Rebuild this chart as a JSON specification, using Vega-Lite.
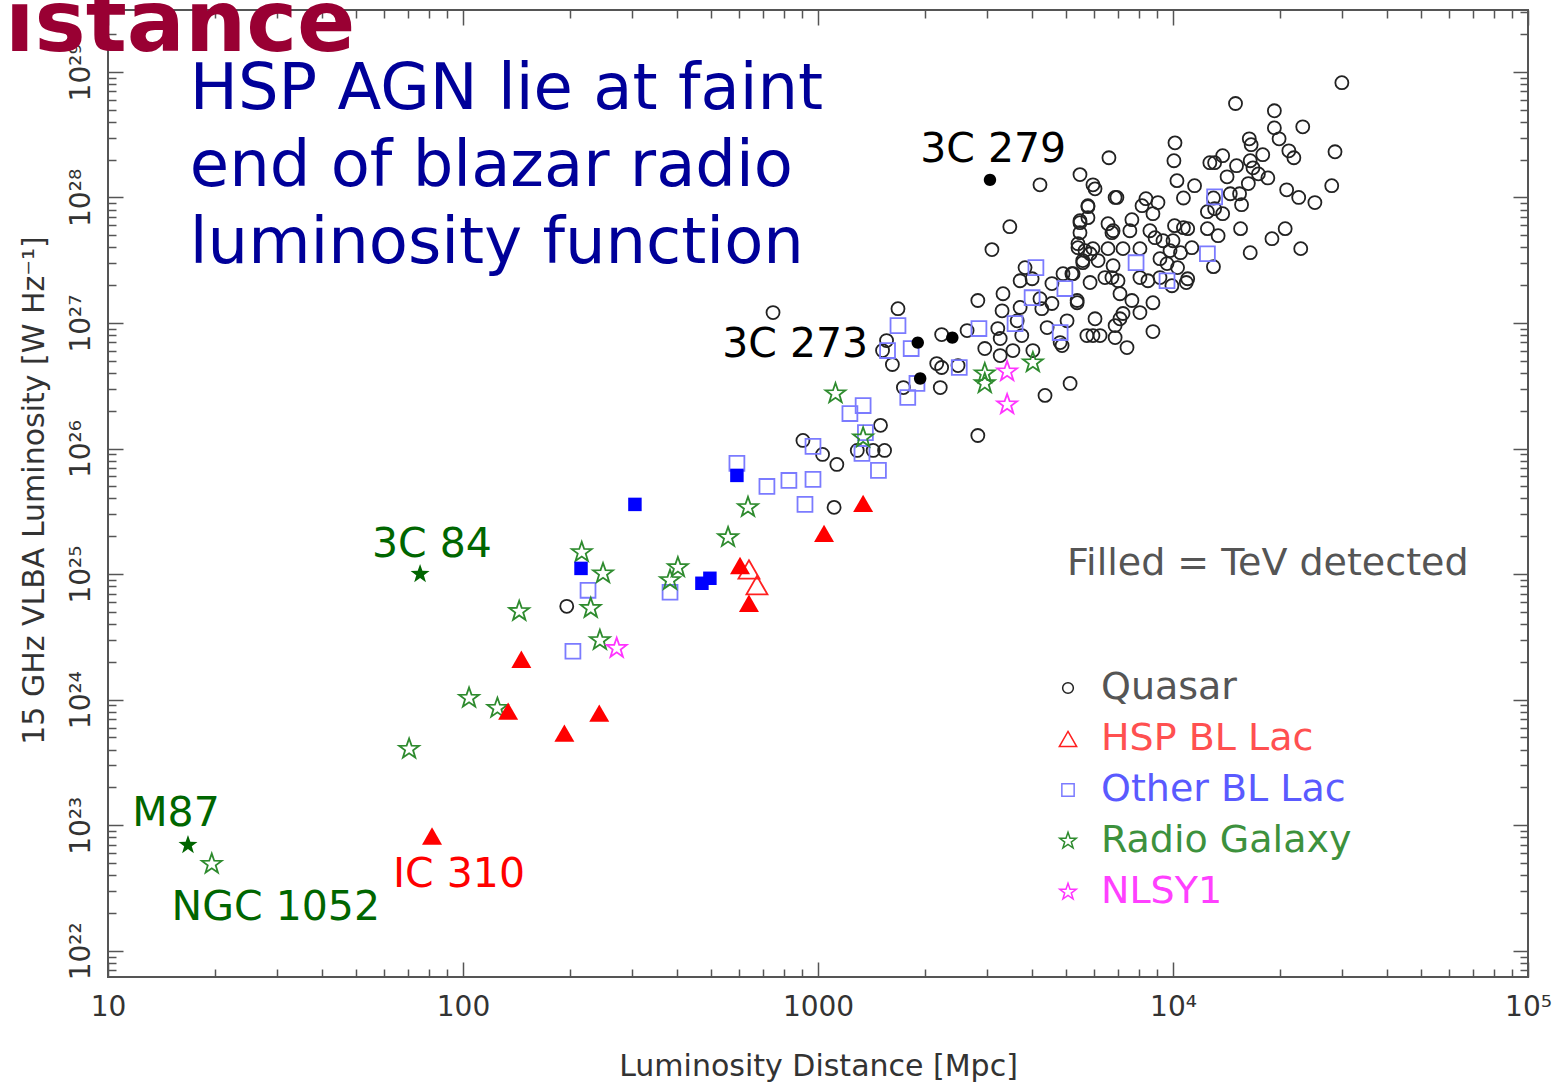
{
  "$schema": "https://vega.github.io/schema/vega-lite/v6.json",
  "width": 1420,
  "height": 967,
  "autosize": {"type": "none"},
  "padding": {"left": 108, "top": 10, "right": 34, "bottom": 105},
  "background": "white",
  "config": {
    "view": {"stroke": "#555555", "strokeWidth": 2},
    "font": "DejaVu Sans",
    "axis": {"grid": false, "domain": false, "labelFont": "DejaVu Sans", "titleFont": "DejaVu Sans"}
  },
  "datasets": {
    "open": [
      {"class":"Quasar","distance":29900,"luminosity":8.2e28},
      {"class":"Quasar","distance":15000,"luminosity":5.6e28},
      {"class":"Quasar","distance":19300,"luminosity":4.9e28},
      {"class":"Quasar","distance":23200,"luminosity":3.65e28},
      {"class":"Quasar","distance":19300,"luminosity":3.58e28},
      {"class":"Quasar","distance":19900,"luminosity":2.93e28},
      {"class":"Quasar","distance":16400,"luminosity":2.93e28},
      {"class":"Quasar","distance":16600,"luminosity":2.63e28},
      {"class":"Quasar","distance":21200,"luminosity":2.35e28},
      {"class":"Quasar","distance":21900,"luminosity":2.07e28},
      {"class":"Quasar","distance":28600,"luminosity":2.31e28},
      {"class":"Quasar","distance":17900,"luminosity":2.19e28},
      {"class":"Quasar","distance":10130,"luminosity":2.72e28},
      {"class":"Quasar","distance":10060,"luminosity":1.96e28},
      {"class":"Quasar","distance":6600,"luminosity":2.07e28},
      {"class":"Quasar","distance":13800,"luminosity":2.15e28},
      {"class":"Quasar","distance":12700,"luminosity":1.89e28},
      {"class":"Quasar","distance":13100,"luminosity":1.89e28},
      {"class":"Quasar","distance":15100,"luminosity":1.79e28},
      {"class":"Quasar","distance":16500,"luminosity":1.96e28},
      {"class":"Quasar","distance":16800,"luminosity":1.72e28},
      {"class":"Quasar","distance":17400,"luminosity":1.54e28},
      {"class":"Quasar","distance":18500,"luminosity":1.43e28},
      {"class":"Quasar","distance":14200,"luminosity":1.46e28},
      {"class":"Quasar","distance":10260,"luminosity":1.36e28},
      {"class":"Quasar","distance":11500,"luminosity":1.24e28},
      {"class":"Quasar","distance":5470,"luminosity":1.52e28},
      {"class":"Quasar","distance":5950,"luminosity":1.26e28},
      {"class":"Quasar","distance":6030,"luminosity":1.17e28},
      {"class":"Quasar","distance":6950,"luminosity":1.0e28},
      {"class":"Quasar","distance":10700,"luminosity":9.9e27},
      {"class":"Quasar","distance":13000,"luminosity":9.9e27},
      {"class":"Quasar","distance":14500,"luminosity":1.07e28},
      {"class":"Quasar","distance":15400,"luminosity":1.07e28},
      {"class":"Quasar","distance":16300,"luminosity":1.29e28},
      {"class":"Quasar","distance":20900,"luminosity":1.15e28},
      {"class":"Quasar","distance":22600,"luminosity":1.0e28},
      {"class":"Quasar","distance":25100,"luminosity":9.1e27},
      {"class":"Quasar","distance":28000,"luminosity":1.24e28},
      {"class":"Quasar","distance":12500,"luminosity":7.7e27},
      {"class":"Quasar","distance":13100,"luminosity":8.13e27},
      {"class":"Quasar","distance":13800,"luminosity":7.42e27},
      {"class":"Quasar","distance":15600,"luminosity":8.75e27},
      {"class":"Quasar","distance":15500,"luminosity":5.64e27},
      {"class":"Quasar","distance":20700,"luminosity":5.64e27},
      {"class":"Quasar","distance":19000,"luminosity":4.69e27},
      {"class":"Quasar","distance":16500,"luminosity":3.63e27},
      {"class":"Quasar","distance":22900,"luminosity":3.91e27},
      {"class":"Quasar","distance":12500,"luminosity":5.64e27},
      {"class":"Quasar","distance":13400,"luminosity":4.96e27},
      {"class":"Quasar","distance":13000,"luminosity":2.81e27},
      {"class":"Quasar","distance":5760,"luminosity":8.59e27},
      {"class":"Quasar","distance":8390,"luminosity":9.77e27},
      {"class":"Quasar","distance":8180,"luminosity":8.59e27},
      {"class":"Quasar","distance":9070,"luminosity":9.1e27},
      {"class":"Quasar","distance":8780,"luminosity":7.42e27},
      {"class":"Quasar","distance":7660,"luminosity":6.65e27},
      {"class":"Quasar","distance":6560,"luminosity":6.18e27},
      {"class":"Quasar","distance":6780,"luminosity":5.43e27},
      {"class":"Quasar","distance":5470,"luminosity":6.53e27},
      {"class":"Quasar","distance":5470,"luminosity":5.24e27},
      {"class":"Quasar","distance":5400,"luminosity":4.28e27},
      {"class":"Quasar","distance":5650,"luminosity":3.77e27},
      {"class":"Quasar","distance":5840,"luminosity":3.56e27},
      {"class":"Quasar","distance":5570,"luminosity":3.02e27},
      {"class":"Quasar","distance":6150,"luminosity":3.14e27},
      {"class":"Quasar","distance":6560,"luminosity":3.91e27},
      {"class":"Quasar","distance":7230,"luminosity":3.91e27},
      {"class":"Quasar","distance":7560,"luminosity":5.43e27},
      {"class":"Quasar","distance":8610,"luminosity":5.43e27},
      {"class":"Quasar","distance":8900,"luminosity":4.78e27},
      {"class":"Quasar","distance":9370,"luminosity":4.52e27},
      {"class":"Quasar","distance":10100,"luminosity":5.96e27},
      {"class":"Quasar","distance":10700,"luminosity":5.74e27},
      {"class":"Quasar","distance":11000,"luminosity":5.64e27},
      {"class":"Quasar","distance":10000,"luminosity":4.52e27},
      {"class":"Quasar","distance":11300,"luminosity":3.98e27},
      {"class":"Quasar","distance":10500,"luminosity":3.63e27},
      {"class":"Quasar","distance":9810,"luminosity":3.77e27},
      {"class":"Quasar","distance":9190,"luminosity":3.25e27},
      {"class":"Quasar","distance":9620,"luminosity":2.97e27},
      {"class":"Quasar","distance":10300,"luminosity":2.76e27},
      {"class":"Quasar","distance":11000,"luminosity":2.25e27},
      {"class":"Quasar","distance":10900,"luminosity":2.1e27},
      {"class":"Quasar","distance":8070,"luminosity":3.91e27},
      {"class":"Quasar","distance":8070,"luminosity":2.3e27},
      {"class":"Quasar","distance":8500,"luminosity":2.17e27},
      {"class":"Quasar","distance":6780,"luminosity":2.86e27},
      {"class":"Quasar","distance":7000,"luminosity":2.17e27},
      {"class":"Quasar","distance":6430,"luminosity":2.3e27},
      {"class":"Quasar","distance":5840,"luminosity":2.1e27},
      {"class":"Quasar","distance":7090,"luminosity":1.71e27},
      {"class":"Quasar","distance":7660,"luminosity":1.51e27},
      {"class":"Quasar","distance":8070,"luminosity":1.21e27},
      {"class":"Quasar","distance":8780,"luminosity":1.45e27},
      {"class":"Quasar","distance":9190,"luminosity":2.3e27},
      {"class":"Quasar","distance":9930,"luminosity":1.98e27},
      {"class":"Quasar","distance":5190,"luminosity":2.47e27},
      {"class":"Quasar","distance":5370,"luminosity":1.45e27},
      {"class":"Quasar","distance":6030,"luminosity":1.08e27},
      {"class":"Quasar","distance":7230,"luminosity":1.19e27},
      {"class":"Quasar","distance":7090,"luminosity":1.08e27},
      {"class":"Quasar","distance":6870,"luminosity":9.53e26},
      {"class":"Quasar","distance":6870,"luminosity":7.65e26},
      {"class":"Quasar","distance":7420,"luminosity":6.37e26},
      {"class":"Quasar","distance":8780,"luminosity":8.54e26},
      {"class":"Quasar","distance":5720,"luminosity":7.94e26},
      {"class":"Quasar","distance":5950,"luminosity":7.94e26},
      {"class":"Quasar","distance":6230,"luminosity":7.94e26},
      {"class":"Quasar","distance":5030,"luminosity":1.04e27},
      {"class":"Quasar","distance":4870,"luminosity":6.61e26},
      {"class":"Quasar","distance":4220,"luminosity":1.26e28},
      {"class":"Quasar","distance":6870,"luminosity":1.0e28},
      {"class":"Quasar","distance":5760,"luminosity":8.44e27},
      {"class":"Quasar","distance":5760,"luminosity":6.9e27},
      {"class":"Quasar","distance":5470,"luminosity":6.29e27},
      {"class":"Quasar","distance":6730,"luminosity":5.24e27},
      {"class":"Quasar","distance":3470,"luminosity":5.85e27},
      {"class":"Quasar","distance":3090,"luminosity":3.84e27},
      {"class":"Quasar","distance":1680,"luminosity":1.3e27},
      {"class":"Quasar","distance":1560,"luminosity":7.24e26},
      {"class":"Quasar","distance":1520,"luminosity":6.03e26},
      {"class":"Quasar","distance":1620,"luminosity":4.67e26},
      {"class":"Quasar","distance":2230,"luminosity":8.09e26},
      {"class":"Quasar","distance":2630,"luminosity":8.7e26},
      {"class":"Quasar","distance":2820,"luminosity":1.51e27},
      {"class":"Quasar","distance":3320,"luminosity":1.71e27},
      {"class":"Quasar","distance":3300,"luminosity":1.25e27},
      {"class":"Quasar","distance":3210,"luminosity":9.03e26},
      {"class":"Quasar","distance":3260,"luminosity":7.52e26},
      {"class":"Quasar","distance":2950,"luminosity":6.26e26},
      {"class":"Quasar","distance":3260,"luminosity":5.5e26},
      {"class":"Quasar","distance":3540,"luminosity":6.03e26},
      {"class":"Quasar","distance":3750,"luminosity":7.94e26},
      {"class":"Quasar","distance":3640,"luminosity":1.04e27},
      {"class":"Quasar","distance":3710,"luminosity":1.33e27},
      {"class":"Quasar","distance":3830,"luminosity":2.76e27},
      {"class":"Quasar","distance":3710,"luminosity":2.17e27},
      {"class":"Quasar","distance":4010,"luminosity":2.25e27},
      {"class":"Quasar","distance":4220,"luminosity":1.56e27},
      {"class":"Quasar","distance":4270,"luminosity":1.3e27},
      {"class":"Quasar","distance":4560,"luminosity":1.43e27},
      {"class":"Quasar","distance":4420,"luminosity":9.19e26},
      {"class":"Quasar","distance":4810,"luminosity":6.98e26},
      {"class":"Quasar","distance":4030,"luminosity":6.03e26},
      {"class":"Quasar","distance":4560,"luminosity":2.06e27},
      {"class":"Quasar","distance":4900,"luminosity":2.47e27},
      {"class":"Quasar","distance":5230,"luminosity":2.47e27},
      {"class":"Quasar","distance":5370,"luminosity":1.51e27},
      {"class":"Quasar","distance":5400,"luminosity":3.98e27},
      {"class":"Quasar","distance":5950,"luminosity":3.91e27},
      {"class":"Quasar","distance":5570,"luminosity":3.14e27},
      {"class":"Quasar","distance":6730,"luminosity":2.3e27},
      {"class":"Quasar","distance":2230,"luminosity":4.42e26},
      {"class":"Quasar","distance":2210,"luminosity":3.06e26},
      {"class":"Quasar","distance":2160,"luminosity":4.75e26},
      {"class":"Quasar","distance":1740,"luminosity":3.06e26},
      {"class":"Quasar","distance":2480,"luminosity":4.58e26},
      {"class":"Quasar","distance":4360,"luminosity":2.65e26},
      {"class":"Quasar","distance":5130,"luminosity":3.3e26},
      {"class":"Quasar","distance":2820,"luminosity":1.27e26},
      {"class":"Quasar","distance":1500,"luminosity":1.53e26},
      {"class":"Quasar","distance":1540,"luminosity":9.66e25},
      {"class":"Quasar","distance":1430,"luminosity":9.66e25},
      {"class":"Quasar","distance":1290,"luminosity":9.66e25},
      {"class":"Quasar","distance":907,"luminosity":1.16e26},
      {"class":"Quasar","distance":1030,"luminosity":8.97e25},
      {"class":"Quasar","distance":1130,"luminosity":7.47e25},
      {"class":"Quasar","distance":1110,"luminosity":3.4e25},
      {"class":"Quasar","distance":196,"luminosity":5.54e24},
      {"class":"Quasar","distance":747,"luminosity":1.21e27},
      {"class":"HSP BL Lac","distance":639,"luminosity":1.09e25},
      {"class":"HSP BL Lac","distance":673,"luminosity":8.15e24},
      {"class":"Other BL Lac","distance":591,"luminosity":7.61e25},
      {"class":"Other BL Lac","distance":718,"luminosity":4.99e25},
      {"class":"Other BL Lac","distance":828,"luminosity":5.57e25},
      {"class":"Other BL Lac","distance":968,"luminosity":5.68e25},
      {"class":"Other BL Lac","distance":919,"luminosity":3.59e25},
      {"class":"Other BL Lac","distance":968,"luminosity":1.04e26},
      {"class":"Other BL Lac","distance":1230,"luminosity":1.9e26},
      {"class":"Other BL Lac","distance":1340,"luminosity":2.2e26},
      {"class":"Other BL Lac","distance":1360,"luminosity":1.34e26},
      {"class":"Other BL Lac","distance":1330,"luminosity":9.14e25},
      {"class":"Other BL Lac","distance":1480,"luminosity":6.7e25},
      {"class":"Other BL Lac","distance":1790,"luminosity":2.55e26},
      {"class":"Other BL Lac","distance":1900,"luminosity":3.3e26},
      {"class":"Other BL Lac","distance":2500,"luminosity":4.42e26},
      {"class":"Other BL Lac","distance":225,"luminosity":7.43e24},
      {"class":"Other BL Lac","distance":383,"luminosity":7.17e24},
      {"class":"Other BL Lac","distance":204,"luminosity":2.43e24},
      {"class":"Other BL Lac","distance":1680,"luminosity":9.53e26},
      {"class":"Other BL Lac","distance":1570,"luminosity":6.03e26},
      {"class":"Other BL Lac","distance":1830,"luminosity":6.26e26},
      {"class":"Other BL Lac","distance":2840,"luminosity":9.03e26},
      {"class":"Other BL Lac","distance":3590,"luminosity":9.89e26},
      {"class":"Other BL Lac","distance":4010,"luminosity":1.59e27},
      {"class":"Other BL Lac","distance":4110,"luminosity":2.76e27},
      {"class":"Other BL Lac","distance":4960,"luminosity":1.88e27},
      {"class":"Other BL Lac","distance":4810,"luminosity":8.39e26},
      {"class":"Other BL Lac","distance":13100,"luminosity":1.01e28},
      {"class":"Other BL Lac","distance":12500,"luminosity":3.56e27},
      {"class":"Other BL Lac","distance":7870,"luminosity":3.02e27},
      {"class":"Other BL Lac","distance":9620,"luminosity":2.17e27},
      {"class":"Radio Galaxy","distance":19.6,"luminosity":4.9e22},
      {"class":"Radio Galaxy","distance":70.5,"luminosity":4.04e23},
      {"class":"Radio Galaxy","distance":104,"luminosity":1.03e24},
      {"class":"Radio Galaxy","distance":125,"luminosity":8.56e23},
      {"class":"Radio Galaxy","distance":144,"luminosity":5.06e24},
      {"class":"Radio Galaxy","distance":216,"luminosity":1.49e25},
      {"class":"Radio Galaxy","distance":248,"luminosity":1.01e25},
      {"class":"Radio Galaxy","distance":229,"luminosity":5.35e24},
      {"class":"Radio Galaxy","distance":243,"luminosity":2.97e24},
      {"class":"Radio Galaxy","distance":383,"luminosity":8.93e24},
      {"class":"Radio Galaxy","distance":403,"luminosity":1.13e25},
      {"class":"Radio Galaxy","distance":558,"luminosity":1.96e25},
      {"class":"Radio Galaxy","distance":635,"luminosity":3.4e25},
      {"class":"Radio Galaxy","distance":1120,"luminosity":2.74e26},
      {"class":"Radio Galaxy","distance":1340,"luminosity":1.22e26},
      {"class":"Radio Galaxy","distance":2950,"luminosity":3.96e26},
      {"class":"Radio Galaxy","distance":2950,"luminosity":3.3e26},
      {"class":"Radio Galaxy","distance":4030,"luminosity":4.84e26},
      {"class":"NLSY1","distance":3410,"luminosity":4.1e26},
      {"class":"NLSY1","distance":3410,"luminosity":2.24e26},
      {"class":"NLSY1","distance":271,"luminosity":2.57e24}
    ],
    "tev": [
      {"class":"Quasar","distance":3051,"luminosity":1.38e28},
      {"class":"Quasar","distance":1910,"luminosity":6.98e26},
      {"class":"Quasar","distance":2390,"luminosity":7.65e26},
      {"class":"Quasar","distance":1940,"luminosity":3.61e26},
      {"class":"HSP BL Lac","distance":1340,"luminosity":3.66e25},
      {"class":"HSP BL Lac","distance":1040,"luminosity":2.11e25},
      {"class":"HSP BL Lac","distance":603,"luminosity":1.17e25},
      {"class":"HSP BL Lac","distance":639,"luminosity":5.86e24},
      {"class":"HSP BL Lac","distance":146,"luminosity":2.1e24},
      {"class":"HSP BL Lac","distance":134,"luminosity":8.1e23},
      {"class":"HSP BL Lac","distance":193,"luminosity":5.41e23},
      {"class":"HSP BL Lac","distance":242,"luminosity":7.81e23},
      {"class":"HSP BL Lac","distance":81.8,"luminosity":8.2e22},
      {"class":"Other BL Lac","distance":591,"luminosity":6.11e25},
      {"class":"Other BL Lac","distance":305,"luminosity":3.59e25},
      {"class":"Other BL Lac","distance":215,"luminosity":1.11e25},
      {"class":"Other BL Lac","distance":471,"luminosity":8.45e24},
      {"class":"Other BL Lac","distance":496,"luminosity":9.26e24},
      {"class":"Radio Galaxy","distance":75.7,"luminosity":1.0e25},
      {"class":"Radio Galaxy","distance":16.8,"luminosity":6.95e22}
    ],
    "black_labels": [
      {"distance":1940,"luminosity":1.92e28,"label":"3C 279"},
      {"distance":537,"luminosity":5.4e26,"label":"3C 273"}
    ],
    "green_labels": [
      {"distance":55.4,"luminosity":1.36e25,"label":"3C 84"},
      {"distance":11.7,"luminosity":9.85e22,"label":"M87"},
      {"distance":15.1,"luminosity":1.76e22,"label":"NGC 1052"}
    ],
    "red_labels": [
      {"distance":63.5,"luminosity":3.22e22,"label":"IC 310"}
    ],
    "note": [
      {"distance":17.0,"luminosity":5.08e28,"label":"HSP AGN lie at faint\nend of blazar radio\nluminosity function"}
    ],
    "heading": [
      {"distance":5.13,"luminosity":1.47e29,"label":"istance"}
    ]
  },
  "resolve": {"scale": {"x": "shared", "y": "shared"}, "axis": {"x": "independent", "y": "independent"}},
  "layer": [
    {
      "data": {"name": "open"},
      "mark": {"type": "point", "filled": false, "size": 441, "strokeWidth": 1.8, "opacity": 1},
      "encoding": {
        "x": {"field": "distance", "type": "quantitative",
          "scale": {"type": "log", "domain": [10, 100000], "nice": false},
          "axis": {"orient": "bottom", "values": [10, 100, 1000, 10000, 100000], "ticks": false, "labelExpr": "['10','100','1000','10⁴','10⁵'][round(log(datum.value)/LN10)-1]", "labelFontSize": 28, "labelColor": "#333333", "labelPadding": 38, "labelBaseline": "alphabetic", "labelFlush": false, "labelOverlap": false, "title": "Luminosity Distance [Mpc]", "titleFontSize": 30, "titleFontWeight": "normal", "titleColor": "#333333", "titleX": 710, "titleY": 98, "titleAlign": "center", "titleBaseline": "alphabetic"}},
        "y": {"field": "luminosity", "type": "quantitative",
          "scale": {"type": "log", "domain": [6.18e21, 3.11e29], "nice": false},
          "axis": {"orient": "left", "values": [1e22, 1e23, 1e24, 1e25, 1e26, 1e27, 1e28, 1e29], "ticks": false, "labelExpr": "['10²²','10²³','10²⁴','10²⁵','10²⁶','10²⁷','10²⁸','10²⁹'][round(log(datum.value)/LN10)-22]", "labelAngle": 270, "labelAlign": "center", "labelBaseline": "alphabetic", "labelPadding": 19, "labelFontSize": 28, "labelColor": "#333333", "labelFlush": false, "labelOverlap": false, "title": "15 GHz VLBA Luminosity [W Hz⁻¹]", "titleFontSize": 30, "titleFontWeight": "normal", "titleColor": "#333333", "titleAngle": 270, "titleX": -65, "titleY": 480, "titleAlign": "center", "titleBaseline": "alphabetic"}},
        "shape": {"field": "class", "type": "nominal",
          "scale": {"domain": ["Quasar", "HSP BL Lac", "Other BL Lac", "Radio Galaxy", "NLSY1"],
            "range": ["M0.62,0A0.62,0.62 0 1 1 -0.62,0A0.62,0.62 0 1 1 0.62,0Z", "M0,-0.87L1,0.87L-1,0.87Z", "M-0.71,-0.71L0.71,-0.71L0.71,0.71L-0.71,0.71Z", "M0,-1L0.235,-0.324L0.951,-0.309L0.38,0.124L0.588,0.809L0,0.4L-0.588,0.809L-0.38,0.124L-0.951,-0.309L-0.235,-0.324Z", "M0,-1L0.235,-0.324L0.951,-0.309L0.38,0.124L0.588,0.809L0,0.4L-0.588,0.809L-0.38,0.124L-0.951,-0.309L-0.235,-0.324Z"]},
          "legend": {"title": "Filled = TeV detected", "orient": "none", "legendX": 959, "legendY": 535, "padding": 0, "titleFont": "DejaVu Sans", "titleFontSize": 38, "titleFontWeight": "normal", "titleColor": "#555555", "titlePadding": 86, "titleLimit": 1000, "labelFont": "DejaVu Sans", "labelFontSize": 38, "labelLimit": 800, "labelOffset": 14, "symbolOffset": -18, "rowPadding": 13, "symbolSize": 300, "symbolStrokeWidth": 1.5, "symbolFillColor": "transparent",
            "labelColor": {"expr": "datum.value === 'Quasar' ? '#555555' : datum.value === 'HSP BL Lac' ? '#ff5050' : datum.value === 'Other BL Lac' ? '#5a5aff' : datum.value === 'Radio Galaxy' ? '#3d913d' : '#ff40ff'"}}},
        "stroke": {"field": "class", "type": "nominal",
          "scale": {"domain": ["Quasar", "HSP BL Lac", "Other BL Lac", "Radio Galaxy", "NLSY1"], "range": ["#222222", "#ff2020", "#7b7bff", "#2e8b2e", "#ff33ff"]},
          "legend": {"title": "Filled = TeV detected", "orient": "none", "legendX": 959, "legendY": 535, "padding": 0, "titleFont": "DejaVu Sans", "titleFontSize": 38, "titleFontWeight": "normal", "titleColor": "#555555", "titlePadding": 86, "titleLimit": 1000, "labelFont": "DejaVu Sans", "labelFontSize": 38, "labelLimit": 800, "labelOffset": 14, "symbolOffset": -18, "rowPadding": 13, "symbolSize": 300, "symbolStrokeWidth": 1.5, "symbolFillColor": "transparent",
            "labelColor": {"expr": "datum.value === 'Quasar' ? '#555555' : datum.value === 'HSP BL Lac' ? '#ff5050' : datum.value === 'Other BL Lac' ? '#5a5aff' : datum.value === 'Radio Galaxy' ? '#3d913d' : '#ff40ff'"}}}
      }
    },
    {
      "data": {"name": "tev"},
      "transform": [{"filter": "datum.class === 'Quasar'"}],
      "mark": {"type": "point", "filled": true, "size": 400, "opacity": 1, "color": "#000000", "shape": "M0.62,0A0.62,0.62 0 1 1 -0.62,0A0.62,0.62 0 1 1 0.62,0Z"},
      "encoding": {
        "x": {"field": "distance", "type": "quantitative",
          "axis": {"orient": "bottom", "values": [10, 100, 1000, 10000, 100000], "labels": false, "tickSize": -15, "tickColor": "#555555", "tickWidth": 1.5, "title": null}},
        "y": {"field": "luminosity", "type": "quantitative",
          "axis": {"orient": "left", "values": [1e22, 1e23, 1e24, 1e25, 1e26, 1e27, 1e28, 1e29], "labels": false, "tickSize": -15, "tickColor": "#555555", "tickWidth": 1.5, "title": null}}
      }
    },
    {
      "data": {"name": "tev"},
      "transform": [{"filter": "datum.class === 'HSP BL Lac'"}],
      "mark": {"type": "point", "filled": true, "size": 400, "opacity": 1, "color": "#ff0000", "shape": "M0,-0.87L1,0.87L-1,0.87Z"},
      "encoding": {
        "x": {"field": "distance", "type": "quantitative", "axis": null},
        "y": {"field": "luminosity", "type": "quantitative", "axis": null}
      }
    },
    {
      "data": {"name": "tev"},
      "transform": [{"filter": "datum.class === 'Other BL Lac'"}],
      "mark": {"type": "point", "filled": true, "size": 360, "opacity": 1, "color": "#0000ff", "shape": "M-0.71,-0.71L0.71,-0.71L0.71,0.71L-0.71,0.71Z"},
      "encoding": {
        "x": {"field": "distance", "type": "quantitative", "axis": null},
        "y": {"field": "luminosity", "type": "quantitative", "axis": null}
      }
    },
    {
      "data": {"name": "tev"},
      "transform": [{"filter": "datum.class === 'Radio Galaxy'"}],
      "mark": {"type": "point", "filled": true, "size": 400, "opacity": 1, "color": "#006400", "shape": "M0,-1L0.235,-0.324L0.951,-0.309L0.38,0.124L0.588,0.809L0,0.4L-0.588,0.809L-0.38,0.124L-0.951,-0.309L-0.235,-0.324Z"},
      "encoding": {
        "x": {"field": "distance", "type": "quantitative", "axis": null},
        "y": {"field": "luminosity", "type": "quantitative", "axis": null}
      }
    },
    {
      "data": {"name": "black_labels"},
      "mark": {"type": "text", "align": "left", "baseline": "alphabetic", "font": "DejaVu Sans", "fontSize": 41, "color": "#000000"},
      "encoding": {
        "x": {"field": "distance", "type": "quantitative",
          "axis": {"orient": "bottom", "values": [20,30,40,50,60,70,80,90,200,300,400,500,600,700,800,900,2000,3000,4000,5000,6000,7000,8000,9000,20000,30000,40000,50000,60000,70000,80000,90000], "labels": false, "tickSize": -8, "tickColor": "#555555", "tickWidth": 1.5, "title": null}},
        "y": {"field": "luminosity", "type": "quantitative",
          "axis": {"orient": "left", "values": [7e21,8e21,9e21,2e22,3e22,4e22,5e22,6e22,7e22,8e22,9e22,2e23,3e23,4e23,5e23,6e23,7e23,8e23,9e23,2e24,3e24,4e24,5e24,6e24,7e24,8e24,9e24,2e25,3e25,4e25,5e25,6e25,7e25,8e25,9e25,2e26,3e26,4e26,5e26,6e26,7e26,8e26,9e26,2e27,3e27,4e27,5e27,6e27,7e27,8e27,9e27,2e28,3e28,4e28,5e28,6e28,7e28,8e28,9e28,2e29,3e29], "labels": false, "tickSize": -8, "tickColor": "#555555", "tickWidth": 1.5, "title": null}},
        "text": {"field": "label", "type": "nominal"}
      }
    },
    {
      "data": {"name": "green_labels"},
      "mark": {"type": "text", "align": "left", "baseline": "alphabetic", "font": "DejaVu Sans", "fontSize": 41, "color": "#006600"},
      "encoding": {
        "x": {"field": "distance", "type": "quantitative",
          "axis": {"orient": "top", "values": [10, 100, 1000, 10000, 100000], "labels": false, "tickSize": -15, "tickColor": "#555555", "tickWidth": 1.5, "title": null}},
        "y": {"field": "luminosity", "type": "quantitative",
          "axis": {"orient": "right", "values": [1e22, 1e23, 1e24, 1e25, 1e26, 1e27, 1e28, 1e29], "labels": false, "tickSize": -15, "tickColor": "#555555", "tickWidth": 1.5, "title": null}},
        "text": {"field": "label", "type": "nominal"}
      }
    },
    {
      "data": {"name": "red_labels"},
      "mark": {"type": "text", "align": "left", "baseline": "alphabetic", "font": "DejaVu Sans", "fontSize": 41, "color": "#ff0000"},
      "encoding": {
        "x": {"field": "distance", "type": "quantitative",
          "axis": {"orient": "top", "values": [20,30,40,50,60,70,80,90,200,300,400,500,600,700,800,900,2000,3000,4000,5000,6000,7000,8000,9000,20000,30000,40000,50000,60000,70000,80000,90000], "labels": false, "tickSize": -8, "tickColor": "#555555", "tickWidth": 1.5, "title": null}},
        "y": {"field": "luminosity", "type": "quantitative",
          "axis": {"orient": "right", "values": [7e21,8e21,9e21,2e22,3e22,4e22,5e22,6e22,7e22,8e22,9e22,2e23,3e23,4e23,5e23,6e23,7e23,8e23,9e23,2e24,3e24,4e24,5e24,6e24,7e24,8e24,9e24,2e25,3e25,4e25,5e25,6e25,7e25,8e25,9e25,2e26,3e26,4e26,5e26,6e26,7e26,8e26,9e26,2e27,3e27,4e27,5e27,6e27,7e27,8e27,9e27,2e28,3e28,4e28,5e28,6e28,7e28,8e28,9e28,2e29,3e29], "labels": false, "tickSize": -8, "tickColor": "#555555", "tickWidth": 1.5, "title": null}},
        "text": {"field": "label", "type": "nominal"}
      }
    },
    {
      "data": {"name": "note"},
      "mark": {"type": "text", "align": "left", "baseline": "alphabetic", "font": "DejaVu Sans", "fontSize": 64, "lineHeight": 77, "lineBreak": "\n", "color": "#000099"},
      "encoding": {
        "x": {"field": "distance", "type": "quantitative", "axis": null},
        "y": {"field": "luminosity", "type": "quantitative", "axis": null},
        "text": {"field": "label", "type": "nominal"}
      }
    },
    {
      "data": {"name": "heading"},
      "mark": {"type": "text", "align": "left", "baseline": "alphabetic", "font": "DejaVu Sans", "fontWeight": "bold", "fontSize": 86, "color": "#990033"},
      "encoding": {
        "x": {"field": "distance", "type": "quantitative", "axis": null},
        "y": {"field": "luminosity", "type": "quantitative", "axis": null},
        "text": {"field": "label", "type": "nominal"}
      }
    }
  ]
}
